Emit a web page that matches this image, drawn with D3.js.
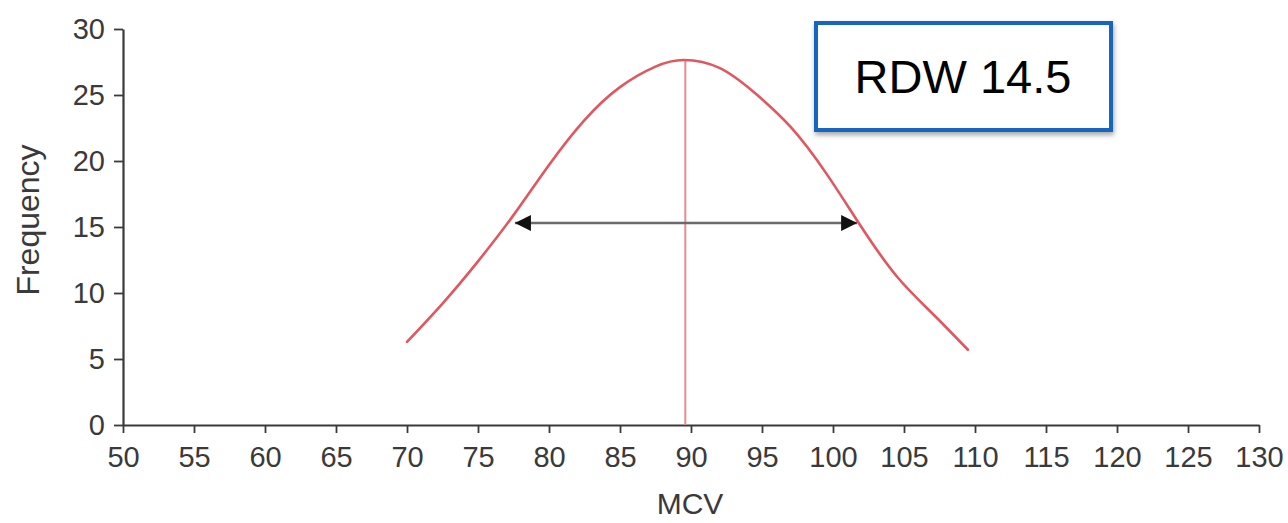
<!DOCTYPE html>
<html><head><meta charset="utf-8">
<script src="https://cdn.jsdelivr.net/npm/d3@7/dist/d3.min.js"></script>
<style>body{margin:0;background:#fff}svg{display:block}text{font-family:"Liberation Sans",Arial,sans-serif}</style>
</head><body>
<svg id="c" width="1288" height="523"></svg>
<script>
const xTicks = [50,55,60,65,70,75,80,85,90,95,100,105,110,115,120,125,130];
const yTicks = [0,5,10,15,20,25,30];
const curveMCV  = [70.0,72.5,75.0,77.5,80.0,82.5,85.0,87.5,89.5,92.0,94.5,97.0,99.5,102.0,104.5,107.0,109.5];
const curveFreq = [6.3,9.2,12.4,15.9,19.7,23.1,25.6,27.15,27.65,27.05,25.15,22.6,19.1,15.0,11.25,8.45,5.7];
const meanMCV = 89.6, peakFreq = 27.65;
const arrowFrom = 77.6, arrowTo = 101.7, arrowFreq = 15.3;
const labelText = "RDW 14.5";

const svg = d3.select("#c");
const x = d3.scaleLinear().domain([50,130]).range([123,1259]);
const y = d3.scaleLinear().domain([0,30]).range([425,29]);

const defs = svg.append("defs");
defs.append("filter").attr("id","sh").attr("x","-10%").attr("y","-10%").attr("width","130%").attr("height","140%")
  .append("feDropShadow").attr("dx",1).attr("dy",3).attr("stdDeviation",2.5).attr("flood-color","#000").attr("flood-opacity",0.35);
defs.append("marker").attr("id","ah").attr("viewBox","0 0 10 10").attr("refX",10).attr("refY",5)
  .attr("markerUnits","userSpaceOnUse").attr("orient","auto-start-reverse")
  .attr("markerWidth",20).attr("markerHeight",16)
  .append("path").attr("d","M0,0L10,5L0,10Z").attr("fill","#111");

const xa = svg.append("g").attr("transform","translate(0,425)")
  .call(d3.axisBottom(x).tickValues(xTicks).tickSize(8).tickPadding(11).tickSizeOuter(0));
const ya = svg.append("g").attr("transform","translate(123,0)")
  .call(d3.axisLeft(y).tickValues(yTicks).tickSize(9).tickPadding(9).tickSizeOuter(0));
[xa,ya].forEach(g=>{
  g.select(".domain").attr("stroke","#3a3a3a").attr("stroke-width",2.2);
  g.selectAll(".tick line").attr("stroke","#3a3a3a").attr("stroke-width",1.8);
  g.selectAll(".tick text").attr("fill","#3a3a3a").style("font-size","29px");
});
xa.selectAll(".tick text").attr("dy","0.78em");

svg.append("text").attr("x",690).attr("y",514).attr("text-anchor","middle")
  .attr("fill","#3a3a3a").style("font-size","30px").text("MCV");
svg.append("text").attr("transform","translate(39,220) rotate(-90)").attr("text-anchor","middle")
  .attr("fill","#3a3a3a").style("font-size","32px").text("Frequency");

// vertical mean line
svg.append("line").attr("x1",x(meanMCV)).attr("x2",x(meanMCV)).attr("y1",y(0)).attr("y2",y(peakFreq))
  .attr("stroke","#e88a8f").attr("stroke-width",2);

// arrow
svg.append("line").attr("x1",x(arrowFrom)).attr("x2",x(arrowTo)).attr("y1",y(arrowFreq)).attr("y2",y(arrowFreq))
  .attr("stroke","#6a6a6a").attr("stroke-width",2.4)
  .attr("marker-start","url(#ah)").attr("marker-end","url(#ah)");

// curve
const pts = curveMCV.map((m,i)=>[m,curveFreq[i]]);
svg.append("path").datum(pts)
  .attr("d",d3.line().x(d=>x(d[0])).y(d=>y(d[1])).curve(d3.curveNatural))
  .attr("fill","none").attr("stroke","#e0575f").attr("stroke-width",2.6).attr("stroke-linecap","round");

// label box
svg.append("rect").attr("x",816).attr("y",23).attr("width",295).attr("height",107)
  .attr("fill","#fff").attr("stroke","#1565c0").attr("stroke-width",4).attr("filter","url(#sh)");
svg.append("text").attr("x",963).attr("y",93).attr("text-anchor","middle")
  .attr("fill","#000").style("font-size","47px").text(labelText);
</script>
</body></html>
